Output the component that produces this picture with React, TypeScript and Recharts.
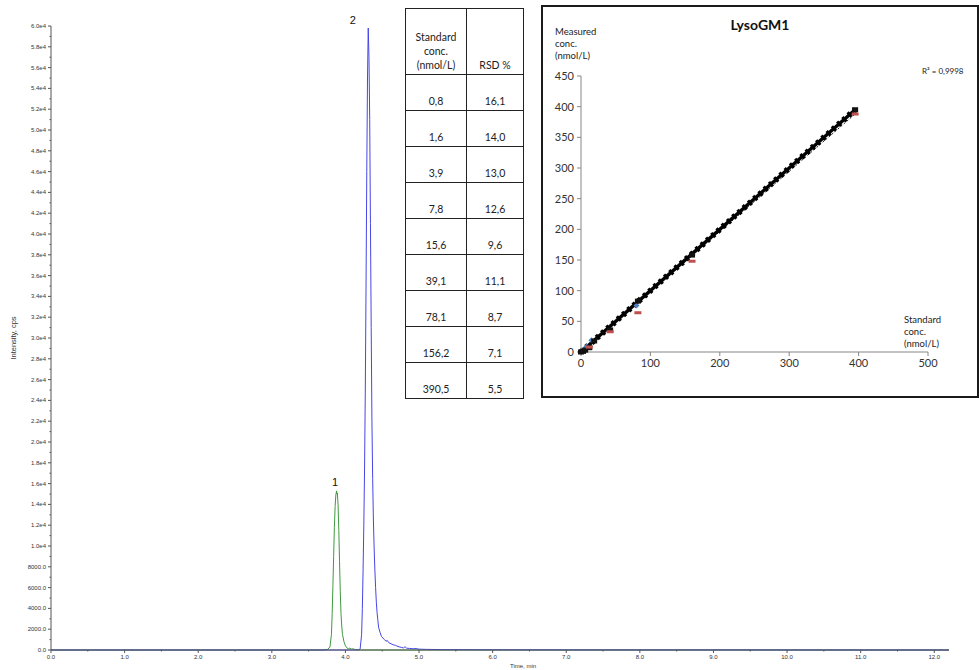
import {
  LineChart,
  Line,
  XAxis,
  YAxis,
  ReferenceDot,
  ComposedChart,
  Scatter,
} from 'recharts';

// chromatogram traces: [time (min), intensity (cps)]
const PEAK_1: [number, number][] = [
  [0, 0], [3.7, 0], [3.76, 60], [3.79, 300], [3.81, 1500], [3.82, 3500], [3.83, 6200],
  [3.84, 9000], [3.85, 11800], [3.86, 13800], [3.87, 14900], [3.88, 15300], [3.885, 15000],
  [3.89, 15100], [3.9, 14000], [3.91, 11500], [3.92, 8500], [3.93, 5600], [3.94, 3500],
  [3.95, 2300], [3.96, 1500], [3.98, 800], [4.0, 400], [4.02, 200], [4.04, 120], [4.06, 180],
  [4.08, 90], [4.1, 120], [4.14, 30], [4.2, 0], [12.2, 0],
];

const PEAK_2: [number, number][] = [
  [0, 0], [4.18, 0], [4.2, 100], [4.22, 1500], [4.23, 4000], [4.24, 7700], [4.25, 12000],
  [4.26, 17500], [4.27, 25000], [4.28, 35000], [4.29, 46000], [4.3, 55000], [4.31, 59800],
  [4.32, 57000], [4.33, 51000], [4.34, 41000], [4.35, 31000], [4.36, 22000], [4.37, 16500],
  [4.38, 12500], [4.39, 9800], [4.4, 7700], [4.41, 6000], [4.42, 4600], [4.43, 3600],
  [4.44, 2900], [4.45, 2200], [4.47, 1700], [4.49, 1300], [4.51, 1150], [4.53, 1000],
  [4.55, 850], [4.57, 900], [4.59, 700], [4.62, 600], [4.65, 500], [4.68, 450], [4.7, 380],
  [4.73, 300], [4.76, 250], [4.79, 200], [4.81, 320], [4.83, 180], [4.87, 150], [4.92, 120],
  [4.96, 140], [5.0, 80], [5.1, 60], [5.3, 40], [5.6, 30], [6.0, 20], [7.0, 10], [12.2, 0],
];

const Y_MAJOR = [
  0, 2000, 4000, 6000, 8000, 10000, 12000, 14000, 16000, 18000, 20000, 22000, 24000, 26000,
  28000, 30000, 32000, 34000, 36000, 38000, 40000, 42000, 44000, 46000, 48000, 50000, 52000,
  54000, 56000, 58000, 60000,
];
const X_MAJOR = [0, 1, 2, 3, 4, 5, 6, 7, 8, 9, 10, 11, 12];

// table
const STD_CONC = ['0,8', '1,6', '3,9', '7,8', '15,6', '39,1', '78,1', '156,2', '390,5'];
const RSD = ['16,1', '14,0', '13,0', '12,6', '9,6', '11,1', '8,7', '7,1', '5,5'];

// calibration inset: [standard conc, measured conc]
const CAL_FIT: [number, number][] = [[0, 0], [395, 395]];
const CAL_FIT_2: [number, number][] = [[0, 0], [395, 388]];
const CAL_BLACK: [number, number][] = [
  [0, 0], [3, 1], [6, 3], [12, 7], [19, 18], [42, 36], [82, 83], [160, 158], [395, 395],
];
const CAL_RED: [number, number][] = [[12, 8], [42, 33], [82, 64], [160, 148], [395, 388]];
const CAL_BLUE: [number, number][] = [[0, 0], [4, 4], [8, 9], [15, 19], [80, 76]];
const CAL_X_TICKS = [0, 100, 200, 300, 400, 500];
const CAL_Y_TICKS = [0, 50, 100, 150, 200, 250, 300, 350, 400, 450];

const toPts = (arr: [number, number][]) => arr.map(([x, y]) => ({ x, y }));

const Y_TICKS = Y_MAJOR.flatMap((v) => (v < 60000 ? [v, v + 1000] : [v]));
const X_TICKS = X_MAJOR.flatMap((v) => (v < 12 ? [v, v + 0.5] : [v]));

const fmtY = (v: number) => (v < 10000 ? v.toFixed(1) : `${(v / 10000).toFixed(1)}e4`);

const AXIS = '#555';
const SANS = '"Liberation Sans", Arial, sans-serif';
const CAL_FONT = 'Lato, "Open Sans", sans-serif';

const YTick = (props: any) => {
  const { x, y, payload } = props;
  const major = payload.value % 2000 === 0;
  return (
    <g>
      <line x1={x} x2={x - (major ? 3 : 1.5)} y1={y} y2={y} stroke={AXIS} strokeWidth={1} />
      {major && (
        <text x={x - 5} y={y} dy={2} textAnchor="end" fontSize={6} fill="#333" fontFamily={SANS}>
          {fmtY(payload.value)}
        </text>
      )}
    </g>
  );
};

const XTick = (props: any) => {
  const { x, y, payload } = props;
  const major = Number.isInteger(payload.value);
  return (
    <g>
      <line x1={x} x2={x} y1={y} y2={y + (major ? 3 : 1.5)} stroke={AXIS} strokeWidth={1} />
      {major && (
        <text x={x} y={y + 9} textAnchor="middle" fontSize={6} fill="#333" fontFamily={SANS}>
          {payload.value.toFixed(1)}
        </text>
      )}
    </g>
  );
};

const BlackSq = ({ cx, cy }: any) => <rect x={cx - 3} y={cy - 2.5} width={6} height={5} fill="#111" />;
const RedDash = ({ cx, cy }: any) => <rect x={cx - 3.5} y={cy - 1.5} width={7} height={3} fill="#c0504d" />;
const BlueDia = ({ cx, cy }: any) => (
  <path d={`M${cx},${cy - 3} L${cx + 3},${cy} L${cx},${cy + 3} L${cx - 3},${cy} Z`} fill="#4f81bd" />
);

function RsdTable() {
  const cell: React.CSSProperties = {
    border: '1px solid #222',
    verticalAlign: 'bottom',
    textAlign: 'center',
    padding: '0 0 2px 0',
  };
  return (
    <table
      style={{
        position: 'absolute',
        left: 405,
        top: 8,
        borderCollapse: 'collapse',
        fontFamily: CAL_FONT,
        fontSize: 10.5,
        color: '#222',
        lineHeight: '14px',
        background: '#fff',
      }}
    >
      <tbody>
        <tr style={{ height: 66 }}>
          <td style={{ ...cell, width: 60 }}>
            Standard
            <br />
            conc.
            <br />
            (nmol/L)
          </td>
          <td style={{ ...cell, width: 56 }}>RSD %</td>
        </tr>
        {STD_CONC.map((c, i) => (
          <tr key={c} style={{ height: 36 }}>
            <td style={cell}>{c}</td>
            <td style={cell}>{RSD[i]}</td>
          </tr>
        ))}
      </tbody>
    </table>
  );
}

function Calibration() {
  const tickStyle = { fill: '#333', fontSize: 11, fontFamily: CAL_FONT };
  const small: React.CSSProperties = {
    position: 'absolute',
    fontFamily: CAL_FONT,
    fontSize: 9.5,
    lineHeight: '12px',
    color: '#222',
  };
  return (
    <div
      style={{
        position: 'absolute',
        left: 541,
        top: 5,
        width: 438,
        height: 393,
        border: '2px solid #1a1a1a',
        boxSizing: 'border-box',
        background: '#fff',
      }}
    >
      <div style={{ position: 'absolute', left: -1, top: -1 }}>
        <ComposedChart width={436} height={391} margin={{ top: 70, right: 50, left: 0, bottom: 25 }}>
          <XAxis
            type="number"
            dataKey="x"
            domain={[0, 500]}
            ticks={CAL_X_TICKS}
            interval={0}
            height={20}
            axisLine={{ stroke: '#868686' }}
            tickLine={{ stroke: '#868686' }}
            tickSize={4}
            tickMargin={3}
            tick={tickStyle}
          />
          <YAxis
            type="number"
            dataKey="y"
            domain={[0, 450]}
            ticks={CAL_Y_TICKS}
            interval={0}
            width={39}
            axisLine={{ stroke: '#868686' }}
            tickLine={{ stroke: '#868686' }}
            tickSize={4}
            tickMargin={3}
            tick={tickStyle}
          />
          <Line
            data={toPts(CAL_FIT_2)}
            dataKey="y"
            stroke="#222"
            strokeWidth={1}
            strokeDasharray="2 2"
            dot={false}
            isAnimationActive={false}
          />
          <Line
            data={toPts(CAL_FIT)}
            dataKey="y"
            stroke="#000"
            strokeWidth={3.5}
            dot={false}
            isAnimationActive={false}
          />
          <Line
            data={toPts(CAL_FIT)}
            dataKey="y"
            stroke="#000"
            strokeWidth={6}
            strokeDasharray="3 4"
            dot={false}
            isAnimationActive={false}
          />
          <Scatter data={toPts(CAL_BLUE)} dataKey="y" shape={<BlueDia />} isAnimationActive={false} />
          <Scatter data={toPts(CAL_BLACK)} dataKey="y" shape={<BlackSq />} isAnimationActive={false} />
          <Scatter data={toPts(CAL_RED)} dataKey="y" shape={<RedDash />} isAnimationActive={false} />
        </ComposedChart>
      </div>
      <div
        style={{
          position: 'absolute',
          left: 0,
          width: '100%',
          top: 9,
          textAlign: 'center',
          fontFamily: CAL_FONT,
          fontWeight: 700,
          fontSize: 14,
          color: '#111',
        }}
      >
        LysoGM1
      </div>
      <div style={{ ...small, left: 12, top: 19 }}>
        Measured
        <br />
        conc.
        <br />
        (nmol/L)
      </div>
      <div style={{ ...small, left: 361, top: 307 }}>
        Standard
        <br />
        conc.
        <br />
        (nmol/L)
      </div>
      <div style={{ ...small, left: 379, top: 58, fontSize: 8 }}>
        R² = 0,9998
      </div>
    </div>
  );
}

export default function App() {
  return (
    <div
      style={{
        position: 'absolute',
        left: 0,
        top: 0,
        width: 979,
        height: 670,
        background: '#fff',
        overflow: 'hidden',
      }}
    >
      <LineChart width={979} height={670} margin={{ top: 26, right: 30, left: 0, bottom: 0 }}>
        <XAxis
          type="number"
          dataKey="t"
          domain={[0, 12.2]}
          ticks={X_TICKS}
          interval={0}
          height={20}
          axisLine={{ stroke: AXIS }}
          tickLine={false}
          tickSize={0}
          tickMargin={0}
          tick={(p: any) => <XTick {...p} />}
          label={{
            value: 'Time, min',
            position: 'insideBottom',
            offset: 2,
            dx: 23,
            fontSize: 6,
            fill: '#333',
            fontFamily: SANS,
          }}
        />
        <YAxis
          type="number"
          dataKey="v"
          domain={[0, 60000]}
          ticks={Y_TICKS}
          interval={0}
          width={51}
          axisLine={{ stroke: AXIS }}
          tickLine={false}
          tickSize={0}
          tickMargin={0}
          tick={(p: any) => <YTick {...p} />}
          label={{
            value: 'Intensity, cps',
            angle: -90,
            position: 'insideLeft',
            offset: 13,
            fontSize: 7.5,
            fill: '#333',
            fontFamily: SANS,
            style: { textAnchor: 'middle' },
          }}
        />
        <Line
          data={PEAK_1.map(([t, v]) => ({ t, v }))}
          dataKey="v"
          type="linear"
          stroke="#3f9a3f"
          strokeWidth={1}
          dot={false}
          isAnimationActive={false}
        />
        <Line
          data={PEAK_2.map(([t, v]) => ({ t, v }))}
          dataKey="v"
          type="linear"
          stroke="#4646e6"
          strokeWidth={1}
          dot={false}
          isAnimationActive={false}
        />
        <ReferenceDot
          x={3.86}
          y={16100}
          r={1}
          fill="none"
          stroke="none"
          ifOverflow="visible"
          label={{ value: '1', position: 'center', fontSize: 11, fill: '#111', fontFamily: SANS }}
        />
        <ReferenceDot
          x={4.1}
          y={60600}
          r={1}
          fill="none"
          stroke="none"
          ifOverflow="visible"
          label={{ value: '2', position: 'center', fontSize: 11, fill: '#111', fontFamily: SANS }}
        />
      </LineChart>
      <RsdTable />
      <Calibration />
    </div>
  );
}
